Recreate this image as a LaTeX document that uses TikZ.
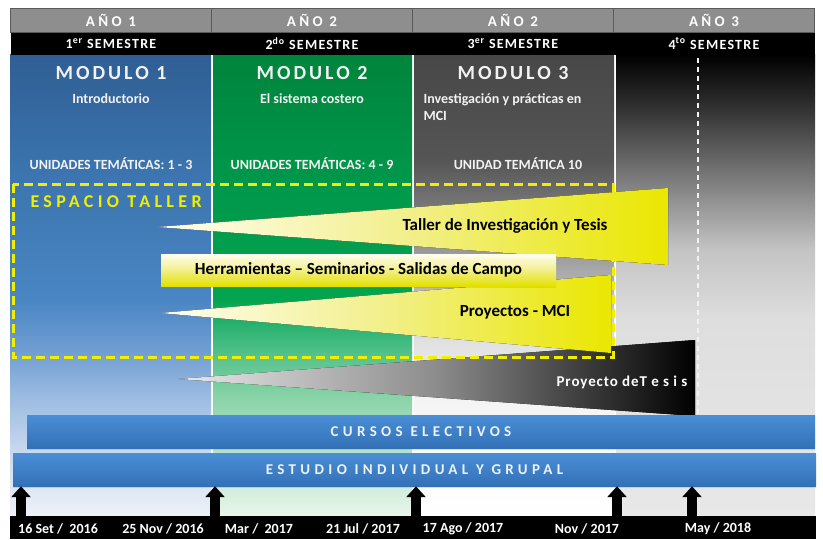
\documentclass[tikz,border=0pt]{standalone}
\usepackage{fontspec}
\setmainfont{Carlito}
\usetikzlibrary{positioning,arrows.meta,shadows}

\definecolor{hdrgray}{HTML}{8E8E8E}
\definecolor{hdrline}{HTML}{5A5A5A}
\definecolor{tallery}{HTML}{F2EE00}
\definecolor{bar1}{HTML}{4A8ED6}
\definecolor{bar2}{HTML}{3371B6}
\definecolor{bartext}{HTML}{EDF2F8}
\definecolor{cuna1}{HTML}{FFFEF2}
\definecolor{cuna2}{HTML}{F2EF8A}
\definecolor{cuna3}{HTML}{EAE700}
\definecolor{te1}{HTML}{E8E8E8}
\definecolor{te2}{HTML}{8C8C8C}
\definecolor{az1}{HTML}{2F5E93}
\definecolor{az2}{HTML}{3B74AE}
\definecolor{az3}{HTML}{4A86C4}
\definecolor{az4}{HTML}{6F9DD2}
\definecolor{az5}{HTML}{9EBDE2}
\definecolor{az6}{HTML}{C8D8EE}
\definecolor{az7}{HTML}{EEF2F8}
\definecolor{ve1}{HTML}{00843C}
\definecolor{ve2}{HTML}{00964A}
\definecolor{ve3}{HTML}{03A450}
\definecolor{ve4}{HTML}{30B575}
\definecolor{ve5}{HTML}{5CC490}
\definecolor{ve6}{HTML}{8CD4AA}
\definecolor{ve7}{HTML}{E8F5EB}
\definecolor{gr1}{HTML}{474747}
\definecolor{gr2}{HTML}{555555}
\definecolor{gr3}{HTML}{A0A0A0}
\definecolor{gr4}{HTML}{E0E0E0}
\definecolor{gr5}{HTML}{F4F4F4}
\definecolor{ne2}{HTML}{2A2A2A}
\definecolor{ne3}{HTML}{777777}
\definecolor{ne4}{HTML}{C4C4C4}
\definecolor{ne5}{HTML}{DEDEDE}
\definecolor{ne6}{HTML}{E8E8E8}

\pgfdeclareverticalshading{modazul}{100bp}{color(0bp)=(az7); color(25bp)=(az7); color(32.1bp)=(az6); color(37.6bp)=(az5); color(43bp)=(az4); color(48.4bp)=(az3); color(62.4bp)=(az2); color(75bp)=(az1); color(100bp)=(az1)}
\pgfdeclareverticalshading{modverde}{100bp}{color(0bp)=(ve7); color(25bp)=(ve7); color(37.6bp)=(ve6); color(41.9bp)=(ve5); color(45.1bp)=(ve4); color(48.4bp)=(ve3); color(62.4bp)=(ve2); color(75bp)=(ve1); color(100bp)=(ve1)}
\pgfdeclareverticalshading{modgris}{100bp}{color(0bp)=(white); color(25bp)=(white); color(37.6bp)=(gr5); color(44bp)=(gr4); color(52.7bp)=(gr3); color(63.5bp)=(gr2); color(75bp)=(gr1); color(100bp)=(gr1)}
\pgfdeclareverticalshading{modnegro}{100bp}{color(0bp)=(ne6); color(25bp)=(ne6); color(46.2bp)=(ne5); color(53.8bp)=(ne4); color(61.9bp)=(ne3); color(70bp)=(ne2); color(75bp)=(black); color(100bp)=(black)}

\begin{document}
\begin{tikzpicture}[x=1pt,y=-1pt,node distance=201pt]
\tikzstyle{ano}=[draw=hdrline,line width=0.6pt,fill=hdrgray,text=white,minimum width=201pt,minimum height=24pt,inner sep=0pt,font=\bfseries\fontsize{15}{18}\selectfont\addfontfeature{LetterSpace=22}]
\tikzstyle{sem}=[fill=black,text=white,minimum width=201pt,minimum height=22pt,inner sep=0pt,font=\bfseries\fontsize{14}{17}\selectfont\addfontfeature{LetterSpace=9}]
\tikzstyle{modulo}=[text=white!95!black,font=\bfseries\fontsize{20}{24}\selectfont\addfontfeature{LetterSpace=15}]
\tikzstyle{sub}=[text=white!95!black,font=\bfseries\fontsize{14}{17}\selectfont]
\tikzstyle{unidad}=[text=white!95!black,font=\bfseries\fontsize{14}{17}\selectfont]
\tikzstyle{cuna}=[left color=cuna1,right color=cuna3,middle color=cuna2]
\tikzstyle{lbl}=[text=black,font=\bfseries\fontsize{17}{20}\selectfont]
\tikzstyle{barra}=[top color=bar1,bottom color=bar2,text=bartext,minimum height=33pt,inner sep=0pt,drop shadow={opacity=0.25,shadow xshift=0pt,shadow yshift=-1.5pt},font=\bfseries\fontsize{15}{18}\selectfont\addfontfeature{LetterSpace=29}]
\tikzstyle{fecha}=[text=white,font=\bfseries\fontsize{14}{17}\selectfont]
\tikzstyle{flecha}=[black,line width=10pt,-{Triangle[width=19pt,length=11pt]}]

\useasboundingbox (0,0) rectangle (823,539);
\fill[white] (0,0) rectangle (823,539);

\shade[shading=modazul] (10,54) rectangle (211,516);
\shade[shading=modverde] (213,54) rectangle (412,516);
\shade[shading=modgris] (414,54) rectangle (614,516);
\shade[shading=modnegro] (616,54) rectangle (815,516);
\draw[white!90!gray,line width=1.5pt,dash pattern=on 5pt off 4pt] (698,58) -- (698,415);

\node[ano] (a1) at (111,20) {AÑO 1};
\node[ano] (a2) [right of=a1] {AÑO 2};
\node[ano] (a3) [right of=a2] {AÑO 2};
\node[ano] (a4) [right of=a3] {AÑO 3};
\node[sem] (s1) [below=0pt of a1] {1\textsuperscript{er} SEMESTRE};
\node[sem] (s2) [below=0pt of a2] {2\textsuperscript{do} SEMESTRE};
\node[sem] (s3) [below=0pt of a3] {3\textsuperscript{er} SEMESTRE};
\node[sem] (s4) [below=0pt of a4] {4\textsuperscript{to} SEMESTRE};

\node[modulo] (m1) at (111,73) {MODULO 1};
\node[modulo] (m2) [right of=m1] {MODULO 2};
\node[modulo] (m3) [right of=m2] {MODULO 3};
\node[sub] (t1) at (111,99) {Introductorio};
\node[sub] (t2) at (312,99) {El sistema costero};
\node[sub,anchor=west,align=left] (t3) at (420,107) {Investigación y prácticas en\\MCI};
\node[unidad] (u1) at (111,164) {UNIDADES TEMÁTICAS: 1 - 3};
\node[unidad] (u2) [right of=u1] {UNIDADES TEMÁTICAS: 4 - 9};
\node[unidad] (u3) at (518,164) {UNIDAD TEMÁTICA 10};

\fill[left color=te1,right color=black,middle color=te2] (178,379) -- (695,340) -- (695,416) -- cycle;
\node[text=white,font=\bfseries\fontsize{15}{18}\selectfont\addfontfeature{LetterSpace=6}] (tesis) at (622,382) {Proyecto deT e s i s};

\draw[tallery,line width=3pt,dash pattern=on 9pt off 5pt] (13,184) rectangle (613,357);
\node[anchor=west,text=tallery,font=\bfseries\fontsize{18}{21}\selectfont\addfontfeature{LetterSpace=24}] (esp) at (27,201.5) {ESPACIO TALLER};

\fill[cuna] (157,227) -- (668,188) -- (668,265) -- cycle;
\fill[cuna] (160,313) -- (611,275) -- (611,353) -- cycle;
\node[lbl,top color=cuna1,bottom color=cuna3!97!black,middle color=cuna2,minimum width=395pt,minimum height=32pt,inner sep=0pt,drop shadow={opacity=0.2,shadow xshift=0pt,shadow yshift=-1.5pt}] (herr) at (358.5,270) {Herramientas – Seminarios - Salidas de Campo};
\node[lbl] (taller) at (505,226) {Taller de Investigación y Tesis};
\node[lbl] (proy) at (515,312) {Proyectos - MCI};

\node[barra,minimum width=788pt] (cursos) at (421,431.5) {CURSOS ELECTIVOS};
\node[barra,minimum width=803pt] (estudio) at (414.5,469.5) {ESTUDIO INDIVIDUAL Y GRUPAL};

\fill[black] (10,516) rectangle (816,539);
\node[fecha] (f1) at (58,529) {16 Set /\ \ 2016};
\node[fecha] (f2) at (163,529) {25 Nov / 2016};
\node[fecha] (f3) at (259,529) {Mar /\ \ 2017};
\node[fecha] (f4) at (363,529) {21 Jul / 2017};
\node[fecha] (f5) at (463,529) {17 Ago / 2017};
\node[fecha] (f6) at (587,529) {Nov / 2017};
\node[fecha] (f7) at (718,529) {May / 2018};

\coordinate (p1) at (21,517);
\coordinate (p2) at (215,517);
\coordinate (p3) at (416,517);
\coordinate (p4) at (617,517);
\coordinate (p5) at (692,517);
\draw[flecha] (p1) -- (p1 |- estudio.south);
\draw[flecha] (p2) -- (p2 |- estudio.south);
\draw[flecha] (p3) -- (p3 |- estudio.south);
\draw[flecha] (p4) -- (p4 |- estudio.south);
\draw[flecha] (p5) -- (p5 |- estudio.south);
\end{tikzpicture}
\end{document}
